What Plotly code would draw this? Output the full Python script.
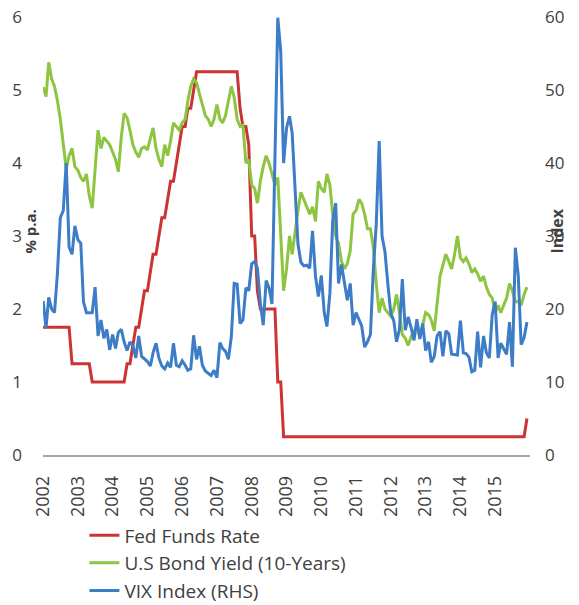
import pandas as pd
import plotly.graph_objects as go

# monthly observations, Jan 2002 - Dec 2015
months = pd.date_range("2002-01-01", periods=168, freq="MS")
years = [str(y) for y in range(2002, 2016)]

fed_funds = [
    1.75, 1.75, 1.75, 1.75, 1.75, 1.75, 1.75, 1.75, 1.75, 1.75, 1.25, 1.25,  # 2002
    1.25, 1.25, 1.25, 1.25, 1.25, 1.0, 1.0, 1.0, 1.0, 1.0, 1.0, 1.0,  # 2003
    1.0, 1.0, 1.0, 1.0, 1.0, 1.25, 1.25, 1.5, 1.75, 1.75, 2.0, 2.25,  # 2004
    2.25, 2.5, 2.75, 2.75, 3.0, 3.25, 3.25, 3.5, 3.75, 3.75, 4.0, 4.25,  # 2005
    4.5, 4.5, 4.75, 4.75, 5.0, 5.25, 5.25, 5.25, 5.25, 5.25, 5.25, 5.25,  # 2006
    5.25, 5.25, 5.25, 5.25, 5.25, 5.25, 5.25, 5.25, 4.75, 4.5, 4.5, 4.25,  # 2007
    3.0, 3.0, 2.25, 2.0, 2.0, 2.0, 2.0, 2.0, 2.0, 1.0, 1.0, 0.25,  # 2008
    0.25, 0.25, 0.25, 0.25, 0.25, 0.25, 0.25, 0.25, 0.25, 0.25, 0.25, 0.25,  # 2009
    0.25, 0.25, 0.25, 0.25, 0.25, 0.25, 0.25, 0.25, 0.25, 0.25, 0.25, 0.25,  # 2010
    0.25, 0.25, 0.25, 0.25, 0.25, 0.25, 0.25, 0.25, 0.25, 0.25, 0.25, 0.25,  # 2011
    0.25, 0.25, 0.25, 0.25, 0.25, 0.25, 0.25, 0.25, 0.25, 0.25, 0.25, 0.25,  # 2012
    0.25, 0.25, 0.25, 0.25, 0.25, 0.25, 0.25, 0.25, 0.25, 0.25, 0.25, 0.25,  # 2013
    0.25, 0.25, 0.25, 0.25, 0.25, 0.25, 0.25, 0.25, 0.25, 0.25, 0.25, 0.25,  # 2014
    0.25, 0.25, 0.25, 0.25, 0.25, 0.25, 0.25, 0.25, 0.25, 0.25, 0.25, 0.5,  # 2015
]

bond_yield = [
    5.04, 4.91, 5.38, 5.15, 5.05, 4.85, 4.60, 4.25, 3.92, 4.10, 4.20, 3.95,  # 2002
    3.90, 3.80, 3.75, 3.85, 3.55, 3.38, 3.95, 4.45, 4.20, 4.35, 4.30, 4.25,  # 2003
    4.15, 4.05, 3.88, 4.35, 4.68, 4.62, 4.45, 4.25, 4.15, 4.08, 4.20, 4.22,  # 2004
    4.18, 4.35, 4.48, 4.20, 4.05, 3.95, 4.25, 4.10, 4.30, 4.55, 4.50, 4.45,  # 2005
    4.55, 4.60, 4.85, 5.05, 5.15, 5.10, 4.95, 4.80, 4.65, 4.60, 4.50, 4.60,  # 2006
    4.80, 4.60, 4.55, 4.65, 4.85, 5.05, 4.90, 4.60, 4.50, 4.52, 4.00, 4.05,  # 2007
    3.70, 3.65, 3.45, 3.75, 3.95, 4.10, 4.00, 3.85, 3.70, 3.80, 3.10, 2.25,  # 2008
    2.55, 3.00, 2.75, 3.10, 3.35, 3.60, 3.50, 3.40, 3.30, 3.40, 3.20, 3.75,  # 2009
    3.65, 3.60, 3.85, 3.70, 3.30, 3.00, 2.90, 2.65, 2.55, 2.62, 2.80, 3.30,  # 2010
    3.35, 3.50, 3.45, 3.30, 3.10, 3.10, 2.85, 2.35, 1.95, 2.15, 2.00, 1.95,  # 2011
    1.90, 2.00, 2.20, 1.95, 1.65, 1.60, 1.50, 1.62, 1.70, 1.75, 1.62, 1.78,  # 2012
    1.95, 1.92, 1.85, 1.70, 2.10, 2.45, 2.60, 2.75, 2.65, 2.55, 2.75, 3.00,  # 2013
    2.70, 2.65, 2.70, 2.62, 2.50, 2.55, 2.48, 2.38, 2.45, 2.30, 2.20, 2.15,  # 2014
    1.95, 2.05, 1.95, 2.05, 2.15, 2.35, 2.25, 2.10, 2.10, 2.05, 2.20, 2.30,  # 2015
]

vix = [
    21.1, 17.4, 21.6, 20.0, 19.5, 25.0, 32.5, 33.5, 40.0, 28.5, 27.5, 31.4,  # 2002
    29.5, 29.0, 21.0, 19.5, 19.5, 19.5, 23.0, 16.3, 18.5, 16.0, 17.2, 14.4,  # 2003
    16.5, 14.6, 16.8, 17.2, 15.5, 14.3, 15.5, 15.0, 13.3, 16.3, 13.5, 13.2,  # 2004
    12.8, 12.2, 14.0, 15.3, 13.3, 12.2, 11.8, 12.6, 12.0, 15.3, 12.3, 12.1,  # 2005
    12.9, 12.3, 11.6, 11.8, 16.4, 13.1, 14.9, 12.3, 11.5, 11.2, 10.9, 11.6,  # 2006
    10.6, 15.4, 14.6, 14.2, 13.1, 16.2, 23.5, 23.4, 18.0, 18.5, 22.9, 22.5,  # 2007
    26.2, 26.5, 25.6, 20.8, 17.8, 23.9, 22.9, 20.7, 39.4, 59.9, 55.3, 40.0,  # 2008
    44.8, 46.4, 44.1, 36.5, 28.9, 26.4, 25.9, 26.0, 25.6, 30.7, 24.5, 21.7,  # 2009
    24.6, 19.5, 17.6, 22.1, 32.1, 34.5, 23.5, 26.1, 23.7, 21.2, 23.5, 17.8,  # 2010
    19.5, 18.4, 17.7, 14.8, 15.5, 16.5, 25.3, 31.6, 43.0, 30.0, 27.8, 23.4,  # 2011
    19.4, 18.4, 15.5, 17.2, 24.1, 17.1, 18.9, 17.5, 15.7, 18.6, 15.9, 18.0,  # 2012
    14.3, 15.5, 12.7, 13.5, 16.3, 16.9, 13.5, 17.0, 16.6, 13.8, 13.7, 13.7,  # 2013
    18.4, 14.0, 13.9, 13.4, 11.4, 11.6, 16.9, 12.0, 16.3, 14.0, 13.3, 19.2,  # 2014
    21.0, 13.3, 15.3, 14.6, 13.8, 18.2, 12.1, 28.4, 24.5, 15.1, 16.1, 18.2,  # 2015
]

text_col = "#404040"
font_family = "Open Sans, Arial, sans-serif"

fig = go.Figure()
fig.add_trace(go.Scatter(x=months, y=fed_funds, name="Fed Funds Rate", mode="lines",
                         line=dict(color="#CC3333", width=3), legendgroup="a"))
fig.add_trace(go.Scatter(x=months, y=bond_yield, name="U.S Bond Yield (10-Years)", mode="lines",
                         line=dict(color="#8DC540", width=3), legendgroup="b"))
fig.add_trace(go.Scatter(x=months, y=vix, name="VIX Index (RHS)", mode="lines", yaxis="y2",
                         line=dict(color="#3D7CC7", width=3), legendgroup="c"))

tick_dates = [pd.Timestamp(y + "-01-01") for y in years]

fig.update_layout(
    width=579, height=605,
    margin=dict(l=43, r=49, t=17, b=150, autoexpand=False),
    paper_bgcolor="white", plot_bgcolor="white",
    font=dict(family=font_family, size=16, color=text_col),
    showlegend=True,
    legend=dict(x=0.085, y=-0.14, xanchor="left", yanchor="top",
                font=dict(size=19, color=text_col), itemwidth=30,
                tracegroupgap=0, bgcolor="rgba(0,0,0,0)"),
    xaxis=dict(range=[pd.Timestamp("2001-12-31"), pd.Timestamp("2016-01-02")],
               tickvals=tick_dates, ticktext=years, tickangle=-90,
               showgrid=False, zeroline=False, showline=True,
               linecolor="#A6A6A6", linewidth=1.5, ticks="",
               ticklabelstandoff=12, automargin=False,
               tickfont=dict(size=18, color=text_col)),
    yaxis=dict(range=[0, 6], dtick=1, showgrid=False, zeroline=False, showline=False,
               ticks="", ticklabelstandoff=20, automargin=False,
               tickfont=dict(size=17, color=text_col)),
    yaxis2=dict(range=[0, 60], dtick=10, overlaying="y", side="right",
                showgrid=False, zeroline=False, showline=False, ticks="",
                ticklabelstandoff=14, automargin=False,
                tickfont=dict(size=17, color=text_col)),
    annotations=[
        dict(text="<b>% p.a.</b>", xref="paper", yref="paper", x=0, y=0.51,
             xshift=-13, xanchor="center", yanchor="middle", textangle=-90,
             showarrow=False, font=dict(size=15, color=text_col)),
        dict(text="<b>Index</b>", xref="paper", yref="paper", x=1, y=0.51,
             xshift=27, xanchor="center", yanchor="middle", textangle=-90,
             showarrow=False, font=dict(size=16, color=text_col)),
    ],
)

# the page's default body margin would push the figure 8px down and right
fig.write_html("out.html", config={"displayModeBar": False},
               post_script="document.body.style.margin='0px';")
